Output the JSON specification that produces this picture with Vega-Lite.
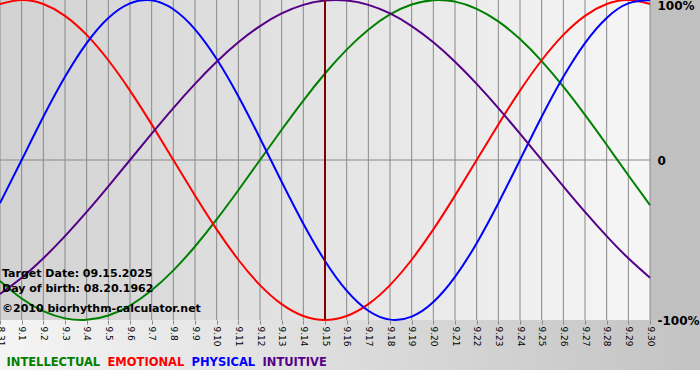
{
  "$schema": "https://vega.github.io/schema/vega-lite/v6.json",
  "width": 650,
  "height": 320,
  "autosize": {"type": "none"},
  "padding": {"left": 0, "top": 0, "right": 50, "bottom": 60},
  "background": "#ffffff",
  "config": {"font": "DejaVu Sans", "view": {"stroke": null}},
  "datasets": {
    "days": [
      {"date": "2025-08-31", "INTELLECTUAL": -0.7557, "EMOTIONAL": 0.9749, "PHYSICAL": -0.2698, "INTUITIVE": -0.8372},
      {"date": "2025-09-01", "INTELLECTUAL": -0.8660, "EMOTIONAL": 1.0, "PHYSICAL": 0.0, "INTUITIVE": -0.7357},
      {"date": "2025-09-02", "INTELLECTUAL": -0.9450, "EMOTIONAL": 0.9749, "PHYSICAL": 0.2698, "INTUITIVE": -0.6142},
      {"date": "2025-09-03", "INTELLECTUAL": -0.9898, "EMOTIONAL": 0.9010, "PHYSICAL": 0.5196, "INTUITIVE": -0.4759},
      {"date": "2025-09-04", "INTELLECTUAL": -0.9989, "EMOTIONAL": 0.7818, "PHYSICAL": 0.7308, "INTUITIVE": -0.3247},
      {"date": "2025-09-05", "INTELLECTUAL": -0.9718, "EMOTIONAL": 0.6235, "PHYSICAL": 0.8879, "INTUITIVE": -0.1646},
      {"date": "2025-09-06", "INTELLECTUAL": -0.9096, "EMOTIONAL": 0.4339, "PHYSICAL": 0.9791, "INTUITIVE": 0.0},
      {"date": "2025-09-07", "INTELLECTUAL": -0.8146, "EMOTIONAL": 0.2225, "PHYSICAL": 0.9977, "INTUITIVE": 0.1646},
      {"date": "2025-09-08", "INTELLECTUAL": -0.6901, "EMOTIONAL": 0.0, "PHYSICAL": 0.9423, "INTUITIVE": 0.3247},
      {"date": "2025-09-09", "INTELLECTUAL": -0.5406, "EMOTIONAL": -0.2225, "PHYSICAL": 0.8170, "INTUITIVE": 0.4759},
      {"date": "2025-09-10", "INTELLECTUAL": -0.3717, "EMOTIONAL": -0.4339, "PHYSICAL": 0.6311, "INTUITIVE": 0.6142},
      {"date": "2025-09-11", "INTELLECTUAL": -0.1893, "EMOTIONAL": -0.6235, "PHYSICAL": 0.3984, "INTUITIVE": 0.7357},
      {"date": "2025-09-12", "INTELLECTUAL": 0.0, "EMOTIONAL": -0.7818, "PHYSICAL": 0.1362, "INTUITIVE": 0.8372},
      {"date": "2025-09-13", "INTELLECTUAL": 0.1893, "EMOTIONAL": -0.9010, "PHYSICAL": -0.1362, "INTUITIVE": 0.9158},
      {"date": "2025-09-14", "INTELLECTUAL": 0.3717, "EMOTIONAL": -0.9749, "PHYSICAL": -0.3984, "INTUITIVE": 0.9694},
      {"date": "2025-09-15", "INTELLECTUAL": 0.5406, "EMOTIONAL": -1.0, "PHYSICAL": -0.6311, "INTUITIVE": 0.9966},
      {"date": "2025-09-16", "INTELLECTUAL": 0.6901, "EMOTIONAL": -0.9749, "PHYSICAL": -0.8170, "INTUITIVE": 0.9966},
      {"date": "2025-09-17", "INTELLECTUAL": 0.8146, "EMOTIONAL": -0.9010, "PHYSICAL": -0.9423, "INTUITIVE": 0.9694},
      {"date": "2025-09-18", "INTELLECTUAL": 0.9096, "EMOTIONAL": -0.7818, "PHYSICAL": -0.9977, "INTUITIVE": 0.9158},
      {"date": "2025-09-19", "INTELLECTUAL": 0.9718, "EMOTIONAL": -0.6235, "PHYSICAL": -0.9791, "INTUITIVE": 0.8372},
      {"date": "2025-09-20", "INTELLECTUAL": 0.9989, "EMOTIONAL": -0.4339, "PHYSICAL": -0.8879, "INTUITIVE": 0.7357},
      {"date": "2025-09-21", "INTELLECTUAL": 0.9898, "EMOTIONAL": -0.2225, "PHYSICAL": -0.7308, "INTUITIVE": 0.6142},
      {"date": "2025-09-22", "INTELLECTUAL": 0.9450, "EMOTIONAL": 0.0, "PHYSICAL": -0.5196, "INTUITIVE": 0.4759},
      {"date": "2025-09-23", "INTELLECTUAL": 0.8660, "EMOTIONAL": 0.2225, "PHYSICAL": -0.2698, "INTUITIVE": 0.3247},
      {"date": "2025-09-24", "INTELLECTUAL": 0.7557, "EMOTIONAL": 0.4339, "PHYSICAL": 0.0, "INTUITIVE": 0.1646},
      {"date": "2025-09-25", "INTELLECTUAL": 0.6182, "EMOTIONAL": 0.6235, "PHYSICAL": 0.2698, "INTUITIVE": 0.0},
      {"date": "2025-09-26", "INTELLECTUAL": 0.4582, "EMOTIONAL": 0.7818, "PHYSICAL": 0.5196, "INTUITIVE": -0.1646},
      {"date": "2025-09-27", "INTELLECTUAL": 0.2817, "EMOTIONAL": 0.9010, "PHYSICAL": 0.7308, "INTUITIVE": -0.3247},
      {"date": "2025-09-28", "INTELLECTUAL": 0.0951, "EMOTIONAL": 0.9749, "PHYSICAL": 0.8879, "INTUITIVE": -0.4759},
      {"date": "2025-09-29", "INTELLECTUAL": -0.0951, "EMOTIONAL": 1.0, "PHYSICAL": 0.9791, "INTUITIVE": -0.6142},
      {"date": "2025-09-30", "INTELLECTUAL": -0.2817, "EMOTIONAL": 0.9749, "PHYSICAL": 0.9977, "INTUITIVE": -0.7357}
    ],
    "notes": [
      {"date": "2025-08-31", "v": -0.731, "text": "Target Date: 09.15.2025"},
      {"date": "2025-08-31", "v": -0.825, "text": "Day of birth: 08.20.1962"},
      {"date": "2025-08-31", "v": -0.95, "text": "©2010 biorhythm-calculator.net"}
    ],
    "one": [{}]
  },
  "layer": [
    {
      "data": {"name": "one"},
      "mark": {"type": "rect", "clip": false, "fill": {"gradient": "linear", "x1": 0, "y1": 0, "x2": 1, "y2": 0, "stops": [{"offset": 0, "color": "#f6f6f6"}, {"offset": 1, "color": "#c2c2c2"}]}},
      "encoding": {
        "x": {"datum": {"year": 2025, "month": 8, "date": 30, "utc": true}, "type": "temporal"},
        "x2": {"datum": {"year": 2025, "month": 10, "date": 3, "utc": true}},
        "y": {"datum": -1, "type": "quantitative"},
        "y2": {"datum": -1.3125}
      }
    },
    {
      "data": {"name": "one"},
      "mark": {"type": "rect", "clip": false, "fill": "#c0c0c0"},
      "encoding": {
        "x": {"datum": {"year": 2025, "month": 9, "date": 30, "utc": true}, "type": "temporal"},
        "x2": {"datum": {"year": 2025, "month": 10, "date": 3, "utc": true}},
        "y": {"datum": 1.05, "type": "quantitative"},
        "y2": {"datum": -1}
      }
    },
    {
      "data": {"name": "one"},
      "mark": {"type": "rect", "fill": {"gradient": "linear", "x1": 0, "y1": 0, "x2": 1, "y2": 0, "stops": [{"offset": 0, "color": "#d2d2d2"}, {"offset": 1, "color": "#f6f6f6"}]}},
      "encoding": {
        "x": {"datum": {"year": 2025, "month": 8, "date": 31, "utc": true}, "type": "temporal"},
        "x2": {"datum": {"year": 2025, "month": 9, "date": 30, "utc": true}},
        "y": {"datum": 1, "type": "quantitative"},
        "y2": {"datum": -1}
      }
    },
    {
      "data": {"name": "days"},
      "mark": {"type": "rule", "color": "#888888", "strokeWidth": 1},
      "encoding": {
        "x": {
          "field": "date", "type": "temporal",
          "scale": {"type": "utc", "nice": false, "domain": [{"year": 2025, "month": 8, "date": 31, "utc": true}, {"year": 2025, "month": 9, "date": 30, "utc": true}]},
          "axis": {
            "zindex": 1, "grid": false, "domain": false, "title": null,
            "tickCount": {"interval": "day", "step": 1},
            "format": "%-m.%-d", "labelAngle": 90, "labelAlign": "left", "labelBaseline": "middle",
            "labelFontSize": 9, "labelColor": "#000000", "labelPadding": 2, "labelFlush": false, "labelOverlap": false, "labelBound": false,
            "tickColor": "#888888", "tickSize": 4
          }
        }
      }
    },
    {
      "data": {"name": "one"},
      "mark": {"type": "rule", "color": "#888888", "strokeWidth": 1},
      "encoding": {
        "y": {
          "datum": 0, "type": "quantitative",
          "scale": {"domain": [-1, 1], "nice": false, "zero": false},
          "axis": {
            "orient": "right", "zindex": 1, "grid": false, "domain": false, "ticks": false, "title": null,
            "values": [-1, 0, 1],
            "labelExpr": "datum.value == 1 ? '100%' : datum.value == 0 ? '0' : '-100%'",
            "labelFontSize": 12, "labelFontWeight": "bold", "labelColor": "#000000", "labelPadding": 7,
            "labelBaseline": {"condition": {"test": "datum.value == 1", "value": "top"}, "value": "middle"},
            "labelFlush": false, "labelBound": false
          }
        }
      }
    },
    {
      "data": {"name": "days"},
      "transform": [{"fold": ["INTELLECTUAL", "EMOTIONAL", "PHYSICAL", "INTUITIVE"], "as": ["series", "value"]}],
      "mark": {"type": "line", "strokeWidth": 2, "interpolate": "natural"},
      "encoding": {
        "x": {"field": "date", "type": "temporal"},
        "y": {"field": "value", "type": "quantitative"},
        "color": {
          "field": "series", "type": "nominal",
          "scale": {"domain": ["INTELLECTUAL", "EMOTIONAL", "PHYSICAL", "INTUITIVE"], "range": ["#008000", "#ff0000", "#0000ff", "#550088"]},
          "legend": {
            "title": null, "orient": "none", "legendX": 0, "legendY": 357, "direction": "horizontal", "columns": 4,
            "symbolSize": 0, "symbolOpacity": 0, "symbolStrokeWidth": 0, "labelOffset": -5, "columnPadding": 0, "padding": 0,
            "labelFontSize": 11.5, "labelFontWeight": "bold",
            "encode": {"labels": {"update": {"fill": {"scale": "color", "field": "value"}}}}
          }
        },
        "order": {"field": "series"}
      }
    },
    {
      "data": {"name": "one"},
      "mark": {"type": "rule", "color": "#800000", "strokeWidth": 2},
      "encoding": {
        "x": {"datum": {"year": 2025, "month": 9, "date": 15, "utc": true}, "type": "temporal"}
      }
    },
    {
      "data": {"name": "notes"},
      "mark": {"type": "text", "align": "left", "baseline": "alphabetic", "dx": 2, "fontSize": 11, "fontWeight": "bold", "color": "#000000"},
      "encoding": {
        "x": {"field": "date", "type": "temporal"},
        "y": {"field": "v", "type": "quantitative"},
        "text": {"field": "text"}
      }
    }
  ]
}
